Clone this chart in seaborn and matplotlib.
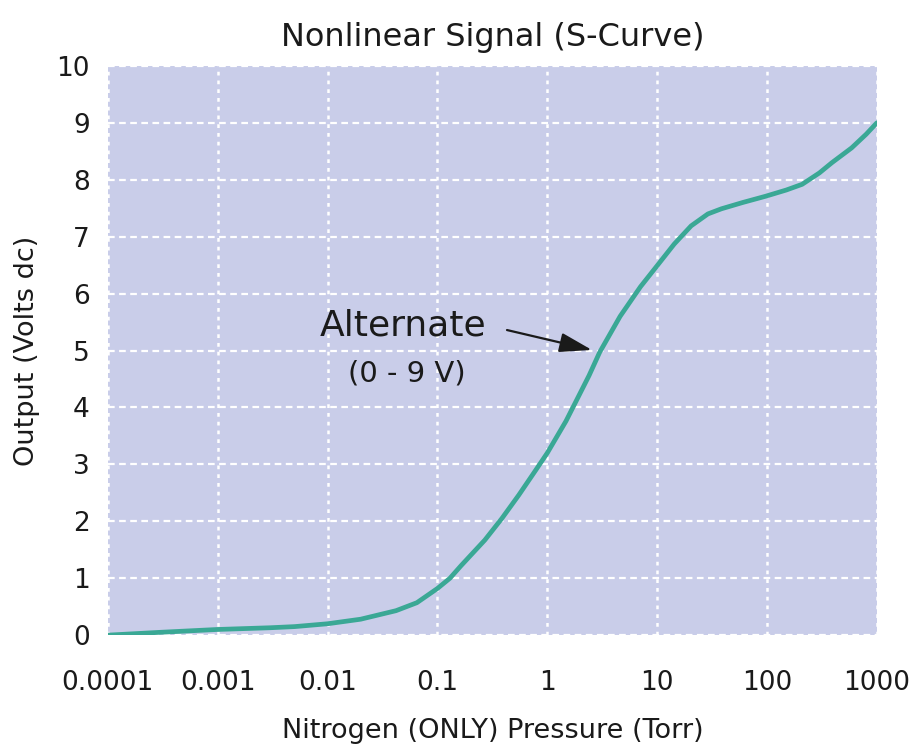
import numpy as np
import pandas as pd
import matplotlib
matplotlib.use("Agg")
import matplotlib.pyplot as plt
import seaborn as sns

# values
pressure = [0.0001, 0.0003, 0.001, 0.003, 0.005, 0.01, 0.02, 0.042, 0.065, 0.1,
            0.13, 0.164, 0.27, 0.386, 0.55, 0.786, 1, 1.48, 1.84, 2.4,
            3.0, 4.6, 7.05, 10, 14.3, 20.4, 29, 38.5, 60, 97,
            150, 209, 300, 390, 590, 800, 1000]
output = [0.0, 0.05, 0.1, 0.13, 0.15, 0.2, 0.28, 0.43, 0.57, 0.82,
          1.0, 1.22, 1.67, 2.05, 2.46, 2.9, 3.2, 3.76, 4.12, 4.56,
          4.97, 5.6, 6.12, 6.49, 6.87, 7.19, 7.4, 7.49, 7.6, 7.71,
          7.82, 7.92, 8.12, 8.3, 8.56, 8.8, 9.0]
x_ticks = [0.0001, 0.001, 0.01, 0.1, 1, 10, 100, 1000]
x_labels = ["0.0001", "0.001", "0.01", "0.1", "1", "10", "100", "1000"]
y_ticks = list(range(0, 11))

df = pd.DataFrame({"pressure": pressure, "output": output})

sns.set_style("white")
plt.rcParams['font.family'] = ['DejaVu Sans']
ink = "#1a1a1a"

fig = plt.figure(figsize=(9.22, 7.49), dpi=100)
ax = fig.add_axes([0.117, 0.152, 0.834, 0.76])
ax.set_facecolor("#c9cde9")

sns.lineplot(data=df, x="pressure", y="output", color="#3aa895",
             linewidth=3.4, sort=False, ax=ax)

ax.set_xscale("log")
ax.set_xlim(0.0001, 1000)
ax.set_ylim(0, 10)
ax.set_xticks(x_ticks)
ax.set_xticklabels(x_labels)
ax.minorticks_off()
ax.set_yticks(y_ticks)

# horizontal grid dashed, vertical grid dotted
ax.grid(True, axis="y", color="white", linestyle=(0, (3, 2)), linewidth=1.6)
ax.grid(True, axis="x", color="white", linestyle=(0, (1.5, 2)), linewidth=1.8)
for s in ax.spines.values():
    s.set_visible(False)
ax.tick_params(axis="both", length=0, labelsize=19, colors=ink)
ax.tick_params(axis="x", pad=25)
ax.tick_params(axis="y", pad=13)

ax.set_title("Nonlinear Signal (S-Curve)", fontsize=23, pad=14, color=ink)
ax.set_xlabel("Nitrogen (ONLY) Pressure (Torr)", fontsize=19.5, labelpad=16, color=ink)
ax.set_ylabel("Output (Volts dc)", fontsize=19.5, labelpad=12, color=ink)

ax.text(0.049, 5.26, "Alternate", fontsize=26, ha="center", va="baseline", color=ink)
ax.text(0.053, 4.6, "(0 - 9 V)", fontsize=21, ha="center", va="center", color=ink)
ax.annotate("", xy=(2.55, 5.01), xytext=(0.43, 5.36),
            arrowprops=dict(arrowstyle="-|>,head_length=2.0,head_width=0.6",
                            color=ink, lw=1.6, shrinkA=0, shrinkB=0))

fig.savefig("out.png", dpi=100)
